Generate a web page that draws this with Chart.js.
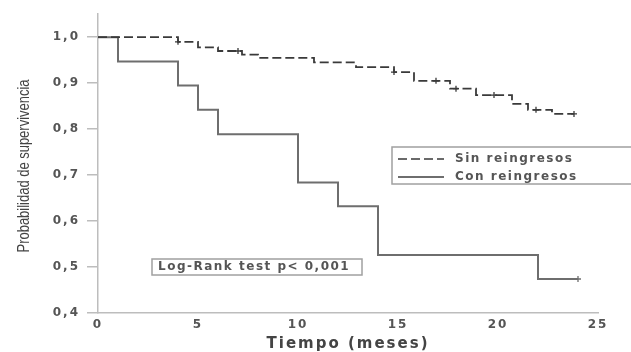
<!DOCTYPE html>
<html>
<head>
<meta charset="utf-8">
<script src="https://cdn.jsdelivr.net/npm/chart.js@4/dist/chart.umd.min.js"></script>
<style>
  html, body { margin: 0; padding: 0; background: #fff; }
  #wrap { width: 631px; height: 352px; position: relative; }
</style>
</head>
<body>
<div id="wrap"><canvas id="c" width="631" height="352"></canvas></div>
<script>
// ---- data ----
const sinTimes = [0, 4, 5, 6, 7.2, 8, 10.8, 12.9, 14.8, 15.8, 17.6, 18.9, 20.7, 21.5, 22.7, 23.8];
const sinSurv  = [1.0, 0.99, 0.978, 0.97, 0.962, 0.955, 0.945, 0.935, 0.924, 0.905, 0.888, 0.874, 0.855, 0.842, 0.833, 0.833];
const sinCensorTimes = [4, 7, 14.8, 16.9, 17.9, 19.8, 21.9, 23.8];
const sinCensorSurv  = [0.99, 0.97, 0.924, 0.905, 0.888, 0.874, 0.842, 0.833];

const conTimes = [0, 1, 4, 5, 6, 10, 12, 14, 22, 24];
const conSurv  = [1.0, 0.947, 0.895, 0.842, 0.789, 0.684, 0.632, 0.526, 0.474, 0.474];
const conCensorTimes = [24];
const conCensorSurv  = [0.474];

const yTickValues = [0.4, 0.5, 0.6, 0.7, 0.8, 0.9, 1.0];
const yTickLabels = ['0,4', '0,5', '0,6', '0,7', '0,8', '0,9', '1,0'];
const xTickValues = [0, 5, 10, 15, 20, 25];
const xTickLabels = ['0', '5', '10', '15', '20', '25'];

const seriesNames = ['Sin reingresos', 'Con reingresos'];
const xTitle = 'Tiempo (meses)';
const yTitle = 'Probabilidad de supervivencia';
const testText = 'Log-Rank test p< 0,001';

const toXY = (xs, ys) => xs.map((x, i) => ({ x: x, y: ys[i] }));

const dashColor = '#3a3a3a';
const solidColor = '#6e6e6e';

const overlay = {
  id: 'overlay',
  beforeDraw(chart) {
    chart.ctx.letterSpacing = '2px';
  },
  afterDraw(chart) {
    const ctx = chart.ctx;
    ctx.save();
    // y axis title (condensed, as in the reference)
    ctx.letterSpacing = '0px';
    ctx.fillStyle = '#444';
    ctx.font = '16px "Liberation Sans", Arial, sans-serif';
    ctx.textAlign = 'center';
    ctx.textBaseline = 'middle';
    const w = ctx.measureText(yTitle).width;
    ctx.translate(25, 166);
    ctx.rotate(-Math.PI / 2);
    ctx.scale(173 / w, 1);
    ctx.fillText(yTitle, 0, 0);
    ctx.restore();

    ctx.save();
    ctx.letterSpacing = '1.5px';
    // legend box
    ctx.strokeStyle = '#a0a0a0';
    ctx.lineWidth = 1.5;
    ctx.strokeRect(392, 147, 260, 37);
    ctx.lineWidth = 1.6;
    ctx.strokeStyle = dashColor;
    ctx.setLineDash([9, 4]);
    ctx.beginPath(); ctx.moveTo(398, 159); ctx.lineTo(444, 159); ctx.stroke();
    ctx.setLineDash([]);
    ctx.strokeStyle = solidColor;
    ctx.lineWidth = 2;
    ctx.beginPath(); ctx.moveTo(398, 177); ctx.lineTo(444, 177); ctx.stroke();
    ctx.fillStyle = '#555';
    ctx.font = 'bold 12px "DejaVu Sans", sans-serif';
    ctx.textAlign = 'left';
    ctx.textBaseline = 'middle';
    ctx.fillText(seriesNames[0], 455, 159);
    ctx.fillText(seriesNames[1], 455, 177);
    // log-rank box
    ctx.strokeStyle = '#a0a0a0';
    ctx.lineWidth = 1.5;
    ctx.strokeRect(152, 259, 210, 16);
    ctx.fillStyle = '#555';
    ctx.fillText(testText, 158, 267);
    ctx.restore();
  }
};

new Chart(document.getElementById('c'), {
  type: 'line',
  data: {
    datasets: [
      {
        label: seriesNames[0],
        data: toXY(sinTimes, sinSurv),
        stepped: 'before',
        borderColor: dashColor,
        borderWidth: 1.8,
        borderDash: [9, 4],
        pointRadius: 0,
        fill: false
      },
      {
        label: seriesNames[1],
        data: toXY(conTimes, conSurv),
        stepped: 'before',
        borderColor: solidColor,
        borderWidth: 2,
        pointRadius: 0,
        fill: false
      },
      {
        label: 'censor1',
        data: toXY(sinCensorTimes, sinCensorSurv),
        showLine: false,
        pointStyle: 'cross',
        pointRadius: 3,
        pointBorderWidth: 1.3,
        pointBorderColor: dashColor,
        borderColor: dashColor
      },
      {
        label: 'censor2',
        data: toXY(conCensorTimes, conCensorSurv),
        showLine: false,
        pointStyle: 'cross',
        pointRadius: 3,
        pointBorderWidth: 1.3,
        pointBorderColor: solidColor,
        borderColor: solidColor
      }
    ]
  },
  options: {
    responsive: false,
    animation: false,
    events: [],
    layout: { padding: { top: 13, right: 33, bottom: 0, left: 0 } },
    plugins: { legend: { display: false }, tooltip: { enabled: false }, title: { display: false } },
    scales: {
      x: {
        type: 'linear',
        min: 0,
        max: 25,
        afterBuildTicks: (s) => { s.ticks = xTickValues.map(v => ({ value: v })); },
        afterFit: (s) => { s.height = 39; },
        ticks: {
          padding: 5,
          color: '#555',
          font: { family: '"DejaVu Sans", sans-serif', size: 12, weight: 'bold' },
          callback: (v) => { const i = xTickValues.indexOf(v); return i >= 0 ? xTickLabels[i] : ''; },
          maxRotation: 0
        },
        grid: { display: true, drawOnChartArea: false, drawTicks: false },
        border: { display: true, color: '#bdbdbd', width: 1.5 },
        title: {
          display: true,
          text: xTitle,
          color: '#444',
          font: { family: '"DejaVu Sans", sans-serif', size: 15, weight: 'bold', lineHeight: 1 },
          padding: { top: 0, bottom: 0 }
        }
      },
      y: {
        type: 'linear',
        min: 0.4,
        max: 1.05,
        afterBuildTicks: (s) => { s.ticks = yTickValues.map(v => ({ value: v })); },
        afterFit: (s) => { s.width = 98; },
        ticks: {
          padding: 7,
          color: '#555',
          font: { family: '"DejaVu Sans", sans-serif', size: 12, weight: 'bold' },
          callback: (v) => {
            const i = yTickValues.findIndex(t => Math.abs(t - v) < 1e-6);
            return i >= 0 ? yTickLabels[i] : '';
          }
        },
        grid: { display: true, drawOnChartArea: false, drawTicks: true, tickLength: 11, color: '#bdbdbd', lineWidth: 1.5 },
        border: { display: true, color: '#bdbdbd', width: 1.5 }
      }
    }
  },
  plugins: [overlay]
});
</script>
</body>
</html>
